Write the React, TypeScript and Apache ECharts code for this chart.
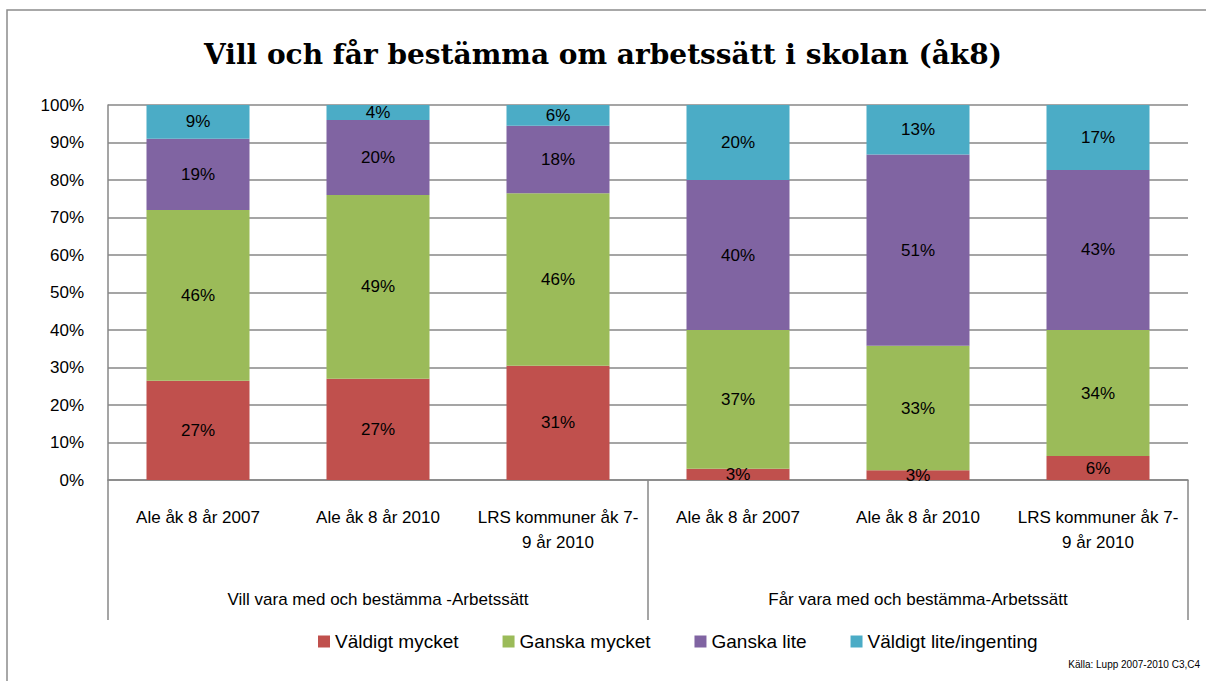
import React, { useEffect, useRef } from "react";
import * as echarts from "echarts";

const categories = [
  "Ale åk 8 år 2007",
  "Ale åk 8 år 2010",
  "LRS kommuner åk 7-\n9 år 2010",
  "Ale åk 8 år 2007",
  "Ale åk 8 år 2010",
  "LRS kommuner åk 7-\n9 år 2010",
];
const groups = ["Vill vara med och bestämma -Arbetssätt", "Får vara med och bestämma-Arbetssätt"];
const seriesNames = ["Väldigt mycket", "Ganska mycket", "Ganska lite", "Väldigt lite/ingenting"];
const valdigtMycket = [26.5, 27, 30.5, 3, 2.6, 6.4];
const ganskaMycket = [45.5, 49, 46, 37, 33.2, 33.6];
const ganskaLite = [19, 20, 18, 40, 51, 42.7];
const valdigtLite = [9, 4, 5.5, 20, 13.2, 17.3];
const colors = ["#C0504D", "#9BBB59", "#8064A2", "#4BACC6"];
const title = "Vill och får bestämma om arbetssätt i skolan (åk8)";
const source = "Källa: Lupp 2007-2010 C3,C4";

const FONT = "Liberation Sans";

export default function App() {
  const ref = useRef<HTMLDivElement>(null);
  useEffect(() => {
    const chart = echarts.init(ref.current!, null, { renderer: "svg" });
    const values = [valdigtMycket, ganskaMycket, ganskaLite, valdigtLite];
    chart.setOption({
      animation: false,
      backgroundColor: "#ffffff",
      title: {
        text: title,
        left: "center",
        top: 35,
        textStyle: { fontFamily: "DejaVu Serif", fontWeight: "bold", fontSize: 28, color: "#000" },
      },
      graphic: [
        {
          type: "rect",
          shape: { x: 7, y: 10, width: 1400, height: 900 },
          style: { fill: "none", stroke: "#8c8c8c", lineWidth: 1.5 },
          silent: true,
        },
        {
          type: "text",
          right: 6,
          top: 659,
          style: { text: source, fontFamily: FONT, fontSize: 10, fill: "#000" },
        },
      ],
      legend: {
        bottom: 25,
        left: 313,
        itemWidth: 12,
        itemHeight: 12,
        itemGap: 44,
        icon: "rect",
        textStyle: { fontFamily: FONT, fontSize: 19, color: "#000" },
        data: seriesNames,
      },
      grid: { left: 108, right: 18, top: 105, bottom: 201 },
      xAxis: [
        {
          type: "category",
          data: categories,
          position: "bottom",
          axisLine: { show: true, lineStyle: { color: "#878787", width: 1.5 } },
          axisTick: { show: false },
          axisLabel: {
            interval: 0,
            margin: 25,
            fontFamily: FONT,
            fontSize: 17,
            color: "#000",
            lineHeight: 25,
          },
        },
        {
          type: "category",
          data: groups,
          position: "bottom",
          axisLine: { show: false },
          axisTick: { show: true, length: 140, lineStyle: { color: "#878787", width: 1.5 } },
          axisLabel: { interval: 0, margin: 111, fontFamily: FONT, fontSize: 17, color: "#000" },
        },
      ],
      yAxis: {
        type: "value",
        min: 0,
        max: 100,
        interval: 10,
        axisLine: { show: true, lineStyle: { color: "#878787", width: 1.5 } },
        axisTick: { show: false },
        splitLine: { lineStyle: { color: "#878787", width: 1.5 } },
        axisLabel: {
          formatter: (v: number) => v + "%",
          fontFamily: FONT,
          fontSize: 17,
          color: "#000",
          margin: 24,
        },
      },
      series: seriesNames.map((name, i) => ({
        name,
        type: "bar",
        stack: "total",
        xAxisIndex: 0,
        barWidth: 103,
        data: values[i],
        itemStyle: { color: colors[i] },
        label: {
          show: true,
          position: "inside",
          formatter: (p: any) => Math.round(p.value) + "%",
          fontFamily: FONT,
          fontSize: 17,
          color: "#000",
        },
      })),
    });
    return () => chart.dispose();
  }, []);
  return <div ref={ref} style={{ position: "fixed", left: 0, top: 0, width: 1206, height: 681 }} />;
}
